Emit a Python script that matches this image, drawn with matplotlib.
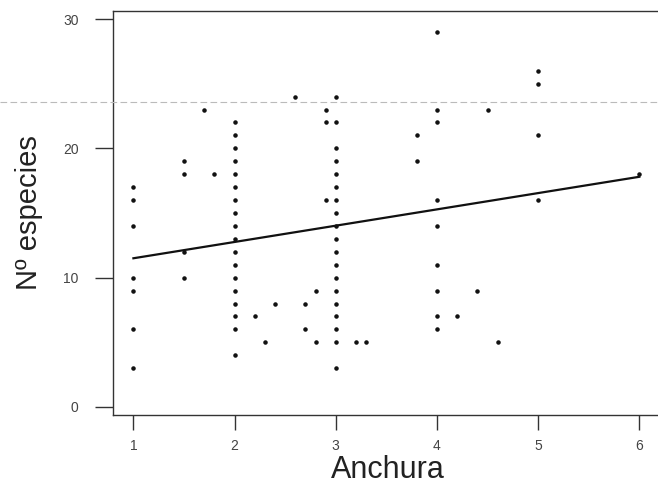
import matplotlib
matplotlib.use("Agg")
from matplotlib import pyplot as plt
from matplotlib.lines import Line2D
import numpy as np

plt.rcParams["font.family"] = ["Liberation Sans", "DejaVu Sans"]

# anchura (x) and numero de especies (y)
anchura = (
    [1] * 7 + [1.5] * 4 + [1.7, 1.8]
    + [2] * 18
    + [2.2, 2.3, 2.4, 2.6, 2.7, 2.7, 2.8, 2.8, 2.9, 2.9, 2.9]
    + [3] * 19
    + [3.2, 3.3, 3.8, 3.8]
    + [4] * 9
    + [4.2, 4.4, 4.5, 4.6]
    + [5] * 4 + [6]
)
especies = (
    [17, 16, 14, 10, 9, 6, 3] + [19, 18, 12, 10] + [23, 18]
    + [22, 21, 20, 19, 18, 17, 16, 15, 14, 13, 12, 11, 10, 9, 8, 7, 6, 4]
    + [7, 5, 8, 24, 8, 6, 9, 5, 23, 22, 16]
    + [24, 22, 20, 19, 18, 17, 16, 15, 14, 13, 12, 11, 10, 9, 8, 7, 6, 5, 3]
    + [5, 5, 21, 19]
    + [29, 23, 22, 16, 14, 11, 9, 7, 6]
    + [7, 9, 23, 5]
    + [26, 25, 21, 16] + [18]
)

# fitted line as drawn in the figure
intercept = 10.24
slope = 1.26
line_x = [1, 6]

fig = plt.figure(figsize=(6.58, 5), dpi=100)
ax = fig.add_axes([0.172, 0.17, 0.835, 0.808])

ax.scatter(anchura, especies, s=5, color="#111111", zorder=3)
lx = np.array(line_x)
ax.plot(lx, intercept + slope * lx, color="#111111", linewidth=1.6)

ax.set_xlim(0.80, 6.23)
ax.set_ylim(-0.62, 30.62)
ax.set_xticks([1, 2, 3, 4, 5, 6])
ax.set_yticks([0, 10, 20, 30])

for sp in ax.spines.values():
    sp.set_color("#333333")
    sp.set_linewidth(1.0)

ax.tick_params(axis="y", length=13, width=1.0, color="#333333",
               labelsize=10, labelcolor="#444444", pad=12)
ax.tick_params(axis="x", length=11, width=1.0, color="#333333",
               labelsize=10, labelcolor="#444444", pad=6)

ax.set_xlabel("Anchura", fontsize=22, color="#222222", labelpad=2)
ax.set_ylabel("Nº especies", fontsize=21, color="#222222", labelpad=14)

# faint scanner streak across the page
fig.add_artist(Line2D([0, 1], [0.796, 0.796], transform=fig.transFigure,
                      color="#bbbbbb", linewidth=0.8, linestyle=(0, (6, 3))))

fig.savefig("out.png", dpi=100)
